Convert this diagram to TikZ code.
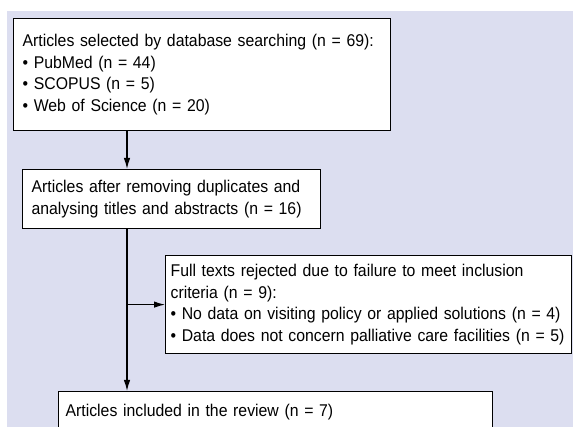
\documentclass[tikz,border=0pt]{standalone}
\usepackage{fontspec}
\newfontfamily\narrowsf{Liberation Sans}[FakeStretch=0.93]
\definecolor{fondo}{RGB}{220,222,240}
\usetikzlibrary{arrows.meta,positioning}

\begin{document}
\begin{tikzpicture}[x=1pt,y=1pt,
      bx/.style={draw=black,fill=white,line width=1.2pt,anchor=north west,
                 align=left,inner xsep=8pt,inner ysep=0pt,
                 font=\narrowsf\fontsize{17}{21.5}\selectfont},
      arr/.style={line width=1.2pt,-{Latex[length=11pt,width=6.5pt]}}]
      \useasboundingbox (0,0) rectangle (573,-427);
      \clip (0,0) rectangle (573,-427);
      \fill[fondo] (7,-11) rectangle (573,-427);
      % Box 1
      \node[bx,inner xsep=9pt,text width=359pt,minimum height=112pt] (sel) at (13,-18)
        {Articles selected by database searching (n = 69):\\
         \textbullet\ PubMed (n = 44)\\
         \textbullet\ SCOPUS (n = 5)\\
         \textbullet\ Web of Science (n = 20)};
      % Box 2
      \node[bx,inner xsep=9pt,text width=280pt,minimum height=59pt] (dup) at (22,-169)
        {Articles after removing duplicates and\\
         analysing titles and abstracts (n = 16)};
      % Box 3
      \node[bx,inner xsep=5pt,text width=396pt,minimum height=98pt] (rej) at (165,-255)
        {Full texts rejected due to failure to meet inclusion\\
         criteria (n = 9):\\
         \textbullet\ No data on visiting policy or applied solutions (n = 4)\\
         \textbullet\ Data does not concern palliative care facilities (n = 5)};
      % Box 4
      \node[bx,inner xsep=7pt,text width=420pt,minimum height=42pt] (inc) at (58,-391)
        {Articles included in the review (n = 7)};
      % Arrows
      \coordinate (trunk) at (127,0);
      \draw[arr] (sel.south -| trunk) -- (dup.north -| trunk);
      \draw[arr] (dup.south -| trunk) -- (inc.north -| trunk);
      \draw[arr] (trunk |- rej.west) -- (rej.west);
    \end{tikzpicture}
\end{document}
